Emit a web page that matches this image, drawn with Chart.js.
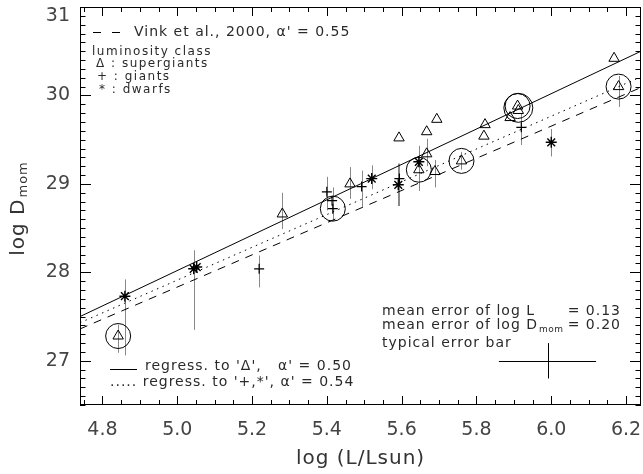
<!DOCTYPE html>
<html>
<head>
<meta charset="utf-8">
<script src="https://cdn.jsdelivr.net/npm/chart.js@4.4.1/dist/chart.umd.min.js"></script>
<style>
  html, body { margin: 0; padding: 0; background: #fff; }
  canvas { display: block; }
</style>
</head>
<body>
<canvas id="dmomChart" width="643" height="474"></canvas>
<script>
// axis ticks
const xMajor = [4.8, 5.0, 5.2, 5.4, 5.6, 5.8, 6.0, 6.2];
const yMajor = [27, 28, 29, 30, 31];

// regression lines, evaluated at the plot edges
const fitL = [4.74, 6.24];
const fitSg = [27.50, 30.50];     // regress. to supergiants, alpha' = 0.50
const fitGd = [27.43, 30.21];     // regress. to giants + dwarfs, alpha' = 0.54
const fitVink = [27.36, 30.09];   // Vink et al. 2000, alpha' = 0.55

// supergiants (triangles)
const sgL  = [4.842, 5.281, 5.462, 5.593, 5.646, 5.667, 5.667, 5.689, 5.694, 5.760, 5.820, 5.823, 5.890, 5.910, 5.912, 6.168, 6.180];
const sgD  = [27.28, 28.66, 29.00, 29.52, 29.16, 29.59, 29.34, 29.14, 29.73, 29.26, 29.54, 29.67, 29.75, 29.88, 29.83, 30.42, 30.10];
const sgLo = [27.09, 28.49, 28.83, null, 28.92, null, 29.20, 28.96, null, 29.16, null, null, null, null, null, null, 29.87];
const sgHi = [27.41, 28.90, 29.19, null, 29.43, null, 29.51, 29.27, null, 29.36, null, null, null, null, null, null, 30.22];

// giants (plus signs)
const gL  = [5.219, 5.400, 5.414, 5.416, 5.493, 5.594, 5.920];
const gD  = [28.04, 28.91, 28.81, 28.72, 28.97, 29.06, 29.64];
const gLo = [27.83, 28.70, null, 28.58, 28.74, 28.75, 29.44];
const gHi = [28.19, 29.08, null, 28.96, 29.15, 29.23, 29.80];

// dwarfs (asterisks)
const dL  = [4.860, 5.044, 5.052, 5.520, 5.591, 5.646, 6.000];
const dD  = [27.73, 28.04, 28.06, 29.06, 28.99, 29.25, 29.47];
const dLo = [27.06, 27.35, null, 28.94, 28.75, null, 29.31];
const dHi = [27.92, 28.25, null, 29.21, 29.23, null, 29.62];

// circled objects
const ringL = [4.842, 5.416, 5.646, 5.760, 5.910, 6.180];
const ringD = [27.28, 28.72, 29.16, 29.26, 29.88, 30.10];
const ring2L = [5.912];
const ring2D = [29.86];

// typical error bar
const typL = 5.99;
const typD = 27.00;
const errL = 0.13;
const errD = 0.20;

const FONT = '"DejaVu Sans", sans-serif';
const INK = '#2a2a2a';
const TICK_INK = '#444';

function pts(xs, ys) {
  return xs.map((v, i) => ({ x: v, y: ys[i] }));
}

function markerSet(xs, ys, style, radius, width) {
  return {
    data: pts(xs, ys),
    showLine: false,
    pointStyle: style,
    pointRadius: radius,
    pointBorderWidth: width,
    pointBorderColor: '#000',
    pointBackgroundColor: 'rgba(0,0,0,0)',
    borderColor: '#000',
    backgroundColor: 'rgba(0,0,0,0)'
  };
}

function fitSet(ys, dash) {
  return {
    data: pts(fitL, ys),
    showLine: true,
    pointRadius: 0,
    borderColor: '#000',
    borderWidth: 1,
    borderDash: dash,
    fill: false
  };
}

// fixed axis boxes, no extra room for overhanging end labels
function fixedBox(size, horizontal) {
  return s => {
    if (horizontal) s.height = size; else s.width = size;
    s.paddingLeft = 0;
    s.paddingRight = 0;
    s.paddingTop = 0;
    s.paddingBottom = 0;
  };
}

// grey vertical error bars under the markers
const errorBars = {
  id: 'errorBars',
  beforeDatasetsDraw(chart) {
    const { ctx, scales: { x, y } } = chart;
    ctx.save();
    ctx.strokeStyle = '#888';
    ctx.lineWidth = 1;
    ctx.beginPath();
    [[sgL, sgLo, sgHi], [gL, gLo, gHi], [dL, dLo, dHi]].forEach(([ls, lo, hi]) => {
      ls.forEach((v, i) => {
        if (lo[i] === null) return;
        const px = Math.round(x.getPixelForValue(v)) + 0.5;
        ctx.moveTo(px, y.getPixelForValue(lo[i]));
        ctx.lineTo(px, y.getPixelForValue(hi[i]));
      });
    });
    ctx.stroke();
    ctx.restore();
  }
};

// box frame with inward ticks on all four sides, y tick labels
const axisFrame = {
  id: 'axisFrame',
  afterDatasetsDraw(chart) {
    const { ctx, chartArea: a, scales: { x, y } } = chart;
    ctx.save();
    ctx.strokeStyle = '#000';
    ctx.lineWidth = 1;
    ctx.strokeRect(a.left + 0.5, a.top + 0.5, a.right - a.left - 1, a.bottom - a.top - 1);
    ctx.beginPath();
    for (let k = 0; k <= 30; k++) {
      const v = Math.round((4.75 + 0.05 * k) * 100) / 100;
      if (v > x.max) break;
      const major = xMajor.some(m => Math.abs(m - v) < 1e-6);
      const len = major ? 9 : 5;
      const px = Math.round(x.getPixelForValue(v)) + 0.5;
      ctx.moveTo(px, a.bottom); ctx.lineTo(px, a.bottom - len);
      ctx.moveTo(px, a.top); ctx.lineTo(px, a.top + len);
    }
    for (let k = 0; k <= 45; k++) {
      const v = Math.round((26.5 + 0.1 * k) * 10) / 10;
      const major = yMajor.some(m => Math.abs(m - v) < 1e-6);
      const len = major ? 11 : 5.5;
      const py = Math.round(y.getPixelForValue(v)) + 0.5;
      ctx.moveTo(a.left, py); ctx.lineTo(a.left + len, py);
      ctx.moveTo(a.right, py); ctx.lineTo(a.right - len, py);
    }
    ctx.stroke();

    // y labels, the top one kept inside the canvas
    ctx.fillStyle = TICK_INK;
    ctx.font = `19px ${FONT}`;
    ctx.textAlign = 'right';
    ctx.textBaseline = 'middle';
    yMajor.forEach(v => {
      ctx.fillText(String(v), a.left - 10, Math.max(y.getPixelForValue(v), a.top + 9));
    });

    // typical error bar cross
    const cx = Math.round(x.getPixelForValue(typL)) + 0.5;
    const cy = Math.round(y.getPixelForValue(typD)) + 0.5;
    ctx.beginPath();
    ctx.moveTo(x.getPixelForValue(typL - errL), cy);
    ctx.lineTo(x.getPixelForValue(typL + errL), cy);
    ctx.moveTo(cx, y.getPixelForValue(typD - errD));
    ctx.lineTo(cx, y.getPixelForValue(typD + errD));
    ctx.stroke();
    ctx.restore();
  }
};

function text(ctx, str, px, py, size, align) {
  ctx.font = `${size}px ${FONT}`;
  ctx.textAlign = align || 'left';
  ctx.fillText(str, px, py);
  return ctx.measureText(str).width;
}

// legends, notes and axis titles
const annotations = {
  id: 'annotations',
  afterDraw(chart) {
    const { ctx, chartArea: a } = chart;
    ctx.save();
    ctx.fillStyle = INK;
    ctx.strokeStyle = '#000';
    ctx.lineWidth = 1;
    ctx.textBaseline = 'middle';
    ctx.letterSpacing = '1px';

    // top-left legend
    ctx.beginPath();
    ctx.moveTo(93, 32.5); ctx.lineTo(101, 32.5);
    ctx.moveTo(112, 32.5); ctx.lineTo(120, 32.5);
    ctx.stroke();
    text(ctx, "Vink et al., 2000, \u03b1' = 0.55", 134, 32, 14);
    ctx.letterSpacing = '1.5px';
    text(ctx, 'luminosity class', 92, 52, 12);
    text(ctx, '\u0394 : supergiants', 96, 64, 12);
    text(ctx, '+ : giants', 97, 77, 12);
    text(ctx, '* : dwarfs', 99, 89.5, 12);

    // bottom-left legend
    ctx.letterSpacing = '1px';
    ctx.beginPath();
    ctx.moveTo(110, 369.5); ctx.lineTo(137, 369.5);
    ctx.stroke();
    text(ctx, "regress. to '\u0394',   \u03b1' = 0.50", 145, 366, 14);
    text(ctx, "..... regress. to '+,*', \u03b1' = 0.54", 110, 382, 14);

    // error notes
    const eqX = 621;
    text(ctx, 'mean error of log L', 382, 311, 14);
    text(ctx, '= ' + errL.toFixed(2), eqX, 311, 14, 'right');
    const w = text(ctx, 'mean error of log D', 382, 325, 14);
    ctx.letterSpacing = '0.5px';
    text(ctx, 'mom', 382 + w + 1, 330, 9);
    ctx.letterSpacing = '1px';
    text(ctx, '= ' + errD.toFixed(2), eqX, 325, 14, 'right');
    text(ctx, 'typical error bar', 382, 343, 14);

    // axis titles
    ctx.fillStyle = '#333';
    text(ctx, 'log (L/Lsun)', (a.left + a.right) / 2, 459, 20, 'center');
    ctx.save();
    ctx.translate(19, 209);
    ctx.rotate(-Math.PI / 2);
    ctx.font = `20px ${FONT}`;
    const wMain = ctx.measureText('log D').width;
    ctx.font = `13px ${FONT}`;
    const wSub = ctx.measureText('mom').width;
    const start = -(wMain + wSub) / 2;
    text(ctx, 'log D', start, 0, 20);
    text(ctx, 'mom', start + wMain + 1, 5, 13);
    ctx.restore();
    ctx.restore();
  }
};

new Chart(document.getElementById('dmomChart'), {
  type: 'scatter',
  data: {
    datasets: [
      markerSet(sgL, sgD, 'triangle', 6, 1),
      markerSet(gL, gD, 'cross', 5, 1.2),
      markerSet(dL, dD, 'star', 5.5, 1.4),
      markerSet(ringL, ringD, 'circle', 12.5, 1),
      markerSet(ring2L, ring2D, 'circle', 14.5, 1),
      fitSet(fitSg, []),
      fitSet(fitGd, [1.5, 4.5]),
      fitSet(fitVink, [8, 7])
    ]
  },
  options: {
    responsive: false,
    animation: false,
    events: [],
    layout: { autoPadding: false, padding: { top: 7, right: 2, left: 0, bottom: 0 } },
    plugins: { legend: { display: false }, tooltip: { enabled: false } },
    scales: {
      x: {
        type: 'linear',
        min: 4.74,
        max: 6.24,
        grid: { display: false, drawTicks: false },
        border: { display: false },
        afterBuildTicks: s => { s.ticks = xMajor.map(v => ({ value: v })); },
        afterFit: fixedBox(69, true),
        ticks: {
          font: { family: FONT, size: 19 },
          color: TICK_INK,
          padding: 14,
          maxRotation: 0,
          autoSkip: false,
          callback: v => Number(v).toFixed(1)
        }
      },
      y: {
        type: 'linear',
        min: 26.5,
        max: 31,
        grid: { display: false, drawTicks: false },
        border: { display: false },
        afterBuildTicks: s => { s.ticks = yMajor.map(v => ({ value: v })); },
        afterFit: fixedBox(80, false),
        ticks: { display: false }
      }
    }
  },
  plugins: [errorBars, axisFrame, annotations]
});
</script>
</body>
</html>
